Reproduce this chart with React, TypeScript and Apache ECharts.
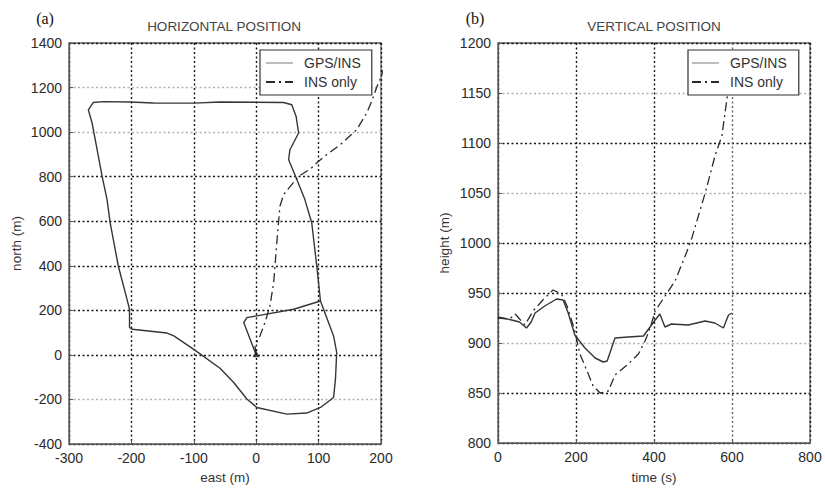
import React, { useEffect, useRef } from 'react';
import * as echarts from 'echarts';

// ---------- data ----------
// Horizontal position (east, north) in metres
const gpsInsHorizontal: [number, number][] = [
  [0, 0], [-20, 145], [-15, 167], [60, 205], [103, 242], [97, 400], [89, 593],
  [78, 697], [63, 802], [52, 876], [54, 921], [68, 996], [64, 1070], [57, 1123],
  [44, 1133], [-58, 1135], [-100, 1130], [-165, 1131], [-202, 1135], [-245, 1137],
  [-261, 1133], [-269, 1100], [-263, 1041], [-247, 802], [-239, 697], [-234, 593],
  [-221, 399], [-207, 249], [-203, 205], [-203, 123], [-199, 115], [-143, 98],
  [-132, 85], [-100, 25], [-58, -60], [-36, -124], [-15, -198], [1, -236],
  [49, -266], [81, -261], [103, -236], [124, -191], [127, -109], [129, 11],
  [124, 85], [103, 242],
];
const insOnlyHorizontal: [number, number][] = [
  [0, 0], [-2, 40], [6, 85], [14, 145], [22, 219], [28, 324], [33, 503], [38, 667],
  [44, 720], [68, 802], [87, 835], [100, 869], [113, 899], [135, 944], [161, 1011],
  [177, 1085], [185, 1137], [193, 1200], [199, 1240], [205, 1290],
];
const startPoint: [number, number][] = [[0, 5]];

// Vertical position (time s, height m)
const gpsInsVertical: [number, number][] = [
  [0, 926], [35, 923], [55, 921], [73, 915], [85, 921], [95, 930], [120, 937],
  [150, 944], [167, 943], [180, 930], [197, 908], [223, 895], [249, 885], [270, 881],
  [280, 882], [300, 905], [334, 906], [373, 907], [403, 923], [415, 929], [428, 916],
  [445, 919], [488, 918], [531, 922], [556, 920], [578, 915], [591, 928], [600, 930],
];
const insOnlyVertical: [number, number][] = [
  [0, 925], [30, 924], [44, 929], [69, 918], [90, 932], [115, 943], [141, 953],
  [163, 949], [176, 938], [195, 915], [210, 889], [223, 877], [244, 857], [262, 850],
  [283, 852], [300, 868], [334, 879], [360, 889], [377, 902], [390, 915], [403, 932],
  [420, 942], [454, 962], [484, 991], [497, 1005], [532, 1051], [557, 1088],
  [574, 1107], [587, 1144], [600, 1175],
];

// axis ranges
const eastRange = { min: -300, max: 200, interval: 100 };
const northRange = { min: -400, max: 1400, interval: 200 };
const timeRange = { min: 0, max: 800, interval: 200 };
const heightRange = { min: 800, max: 1200, interval: 50 };

const seriesNames = ['GPS/INS', 'INS only'];

const FONT = '"Liberation Sans", Arial, sans-serif';
const DARK = '#151515';
const GRAY = '#b0b0b0';
const DOTS = [2, 2.5];

export default function App() {
  const ref = useRef<HTMLDivElement>(null);

  useEffect(() => {
    if (!ref.current) return;
    const chart = echarts.init(ref.current, undefined, { renderer: 'svg' });

    const axisLabel = { color: '#2a2a2a', fontFamily: FONT, fontSize: 14, margin: 7, formatter: (v: number) => String(v) };
    const axisLine = { show: true, onZero: false, lineStyle: { color: '#555', width: 1.2 } };
    const axisTick = { show: true, inside: true, length: 4, lineStyle: { color: '#555' } };
    const nameTextStyle = { color: '#333', fontFamily: FONT, fontSize: 13.5 };

    const hiddenSymbol = { color: 'transparent', borderWidth: 0, borderColor: 'transparent' };
    const legendBase = {
      orient: 'vertical',
      itemWidth: 27,
      itemHeight: 14,
      itemGap: 5,
      borderColor: '#333',
      borderWidth: 1.2,
      backgroundColor: '#fff',
      selectedMode: false,
      textStyle: { fontFamily: FONT, fontSize: 14, color: '#333', padding: [0, 0, 0, 6] },
      data: [
        { name: seriesNames[0], itemStyle: hiddenSymbol, lineStyle: { color: '#bdbdbd', width: 2 } },
        { name: seriesNames[1], itemStyle: hiddenSymbol },
      ],
      z: 10,
    };

    const solid = { color: '#363636', width: 1.4 };
    const dashDot = { color: '#2a2a2a', width: 1.3, type: [9, 4, 2, 4] };
    const gridLine = (color: any) => ({ show: true, lineStyle: { color, type: DOTS, width: 1.4 } });

    const option: any = {
      animation: false,
      backgroundColor: '#fff',
      grid: [
        { left: 69, top: 43, width: 312, height: 402, show: true, borderColor: '#666', borderWidth: 1.3, backgroundColor: 'transparent' },
        { left: 498, top: 43, width: 312, height: 402, show: true, borderColor: '#666', borderWidth: 1.3, backgroundColor: 'transparent' },
      ],
      xAxis: [
        {
          type: 'value', gridIndex: 0, ...eastRange,
          name: 'east (m)', nameLocation: 'middle', nameGap: 26, nameTextStyle,
          axisLabel, axisLine, axisTick,
          splitLine: gridLine(DARK),
        },
        {
          type: 'value', gridIndex: 1, ...timeRange,
          name: 'time (s)', nameLocation: 'middle', nameGap: 27, nameTextStyle,
          axisLabel, axisLine, axisTick,
          splitLine: gridLine([DARK, DARK, DARK, '#666', DARK]),
        },
      ],
      yAxis: [
        {
          type: 'value', gridIndex: 0, ...northRange,
          name: 'north (m)', nameLocation: 'middle', nameGap: 46, nameTextStyle,
          axisLabel, axisLine, axisTick,
          splitLine: gridLine([DARK, GRAY, DARK, DARK, DARK, DARK, DARK, GRAY, GRAY, DARK]),
        },
        {
          type: 'value', gridIndex: 1, ...heightRange,
          name: 'height (m)', nameLocation: 'middle', nameGap: 47, nameTextStyle,
          axisLabel, axisLine, axisTick,
          splitLine: gridLine([DARK, DARK, GRAY, DARK, DARK, GRAY, DARK, GRAY, DARK]),
        },
      ],
      legend: [
        { ...legendBase, left: 260, top: 50, padding: [6, 11, 6, 5] },
        { ...legendBase, left: 688, top: 50, padding: [6, 12, 6, 3] },
      ],
      graphic: [
        { type: 'text', x: 45, y: 18, style: { text: '(a)', font: '16px "Liberation Serif", serif', fill: '#111', align: 'center', verticalAlign: 'middle' } },
        { type: 'text', x: 224, y: 26, style: { text: 'HORIZONTAL POSITION', font: `13.5px ${FONT}`, fill: '#444', align: 'center', verticalAlign: 'middle' } },
        { type: 'text', x: 475, y: 18, style: { text: '(b)', font: '16px "Liberation Serif", serif', fill: '#111', align: 'center', verticalAlign: 'middle' } },
        { type: 'text', x: 654, y: 26, style: { text: 'VERTICAL POSITION', font: `13.5px ${FONT}`, fill: '#444', align: 'center', verticalAlign: 'middle' } },
      ],
      series: [
        { name: seriesNames[0], type: 'line', xAxisIndex: 0, yAxisIndex: 0, data: gpsInsHorizontal, symbol: 'none', lineStyle: solid, itemStyle: { color: solid.color }, z: 3 },
        { name: seriesNames[1], type: 'line', xAxisIndex: 0, yAxisIndex: 0, data: insOnlyHorizontal, symbol: 'none', lineStyle: dashDot, itemStyle: { color: dashDot.color }, z: 3 },
        { name: 'start', type: 'scatter', xAxisIndex: 0, yAxisIndex: 0, data: startPoint, symbol: 'triangle', symbolSize: 7, itemStyle: { color: '#222' }, z: 4 },
        { name: seriesNames[0], type: 'line', xAxisIndex: 1, yAxisIndex: 1, data: gpsInsVertical, symbol: 'none', lineStyle: solid, itemStyle: { color: solid.color }, z: 3 },
        { name: seriesNames[1], type: 'line', xAxisIndex: 1, yAxisIndex: 1, data: insOnlyVertical, symbol: 'none', lineStyle: dashDot, itemStyle: { color: dashDot.color }, z: 3 },
      ],
    };

    chart.setOption(option);
    return () => chart.dispose();
  }, []);

  return <div ref={ref} style={{ position: 'absolute', left: 0, top: 0, width: 825, height: 489 }} />;
}
